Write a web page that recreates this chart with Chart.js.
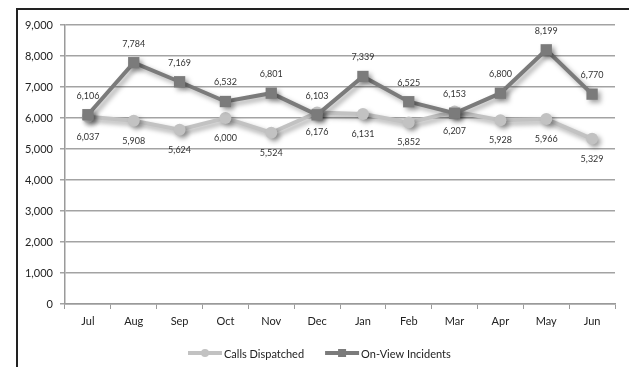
<!DOCTYPE html>
<html>
<head>
<meta charset="utf-8">
<script src="https://cdn.jsdelivr.net/npm/chart.js@4/dist/chart.umd.min.js"></script>
<style>
  html, body { margin: 0; padding: 0; background: #fff; }
  #wrap { position: relative; width: 629px; height: 367px; }
  #frame { position: absolute; left: 16px; top: 8px; right: 0; bottom: 0;
           border-left: 2px solid #222; border-top: 2px solid #222; pointer-events: none; }
  canvas { position: absolute; left: 0; top: 0; }
</style>
</head>
<body>
<div id="wrap">
  <canvas id="chart" width="629" height="367"></canvas>
  <div id="frame"></div>
</div>
<script>
// Monthly activity, July through June
const months = ['Jul', 'Aug', 'Sep', 'Oct', 'Nov', 'Dec', 'Jan', 'Feb', 'Mar', 'Apr', 'May', 'Jun'];
const callsDispatched = [6037, 5908, 5624, 6000, 5524, 6176, 6131, 5852, 6207, 5928, 5966, 5329];
const onViewIncidents = [6106, 7784, 7169, 6532, 6801, 6103, 7339, 6525, 6153, 6800, 8199, 6770];
const seriesNames = ['Calls Dispatched', 'On-View Incidents'];
const yMin = 0, yMax = 9000, yStep = 1000;

const FONT = 'Lato, "Liberation Sans", sans-serif';
const CALLS_COLOR = '#c2c2c2';
const ONVIEW_COLOR = '#7b7b7b';

// soft drop shadow under each series
const shadowPlugin = {
  id: 'seriesShadow',
  beforeDatasetDraw(chart) {
    const ctx = chart.ctx;
    ctx.save();
    ctx.shadowColor = 'rgba(0,0,0,0.35)';
    ctx.shadowBlur = 5;
    ctx.shadowOffsetX = 3;
    ctx.shadowOffsetY = 3;
  },
  afterDatasetDraw(chart) {
    chart.ctx.restore();
  }
};

// value labels: above for on-view, below for calls
const valueLabels = {
  id: 'valueLabels',
  afterDatasetsDraw(chart) {
    const ctx = chart.ctx;
    ctx.save();
    ctx.font = '9px ' + FONT;
    ctx.fillStyle = '#333';
    ctx.textAlign = 'center';
    ctx.textBaseline = 'middle';
    chart.data.datasets.forEach((ds, i) => {
      const meta = chart.getDatasetMeta(i);
      const dy = ds.labelBelow ? 20 : -19;
      meta.data.forEach((pt, j) => {
        ctx.fillText(ds.data[j].toLocaleString('en-US'), pt.x, pt.y + dy);
      });
    });
    ctx.restore();
  }
};

// legend with line + marker swatches under the plot
const lineLegend = {
  id: 'lineLegend',
  afterDraw(chart) {
    const ctx = chart.ctx;
    const y = 353;
    ctx.save();
    ctx.font = '11px ' + FONT;
    ctx.textBaseline = 'middle';
    const sw = 34, gap = 2, spacing = 21;
    let x = 188;
    chart.data.datasets.forEach(ds => {
      ctx.strokeStyle = ds.borderColor;
      ctx.lineWidth = 4;
      ctx.beginPath();
      ctx.moveTo(x, y);
      ctx.lineTo(x + sw, y);
      ctx.stroke();
      ctx.fillStyle = ds.borderColor;
      const cx = x + sw / 2;
      if (ds.pointStyle === 'rect') {
        ctx.fillRect(cx - 4, y - 4, 8, 8);
      } else {
        ctx.beginPath();
        ctx.arc(cx, y, 4, 0, Math.PI * 2);
        ctx.fill();
      }
      ctx.fillStyle = '#222';
      ctx.fillText(ds.label, x + sw + gap, y + 1);
      x += sw + gap + ctx.measureText(ds.label).width + spacing;
    });
    ctx.restore();
  }
};

new Chart(document.getElementById('chart'), {
  type: 'line',
  data: {
    labels: months,
    datasets: [
      {
        label: seriesNames[0],
        data: callsDispatched,
        borderColor: CALLS_COLOR,
        backgroundColor: CALLS_COLOR,
        borderWidth: 4,
        pointStyle: 'circle',
        pointRadius: 6,
        pointBorderWidth: 0,
        tension: 0,
        order: 2,
        labelBelow: true
      },
      {
        label: seriesNames[1],
        data: onViewIncidents,
        borderColor: ONVIEW_COLOR,
        backgroundColor: ONVIEW_COLOR,
        borderWidth: 4,
        pointStyle: 'rect',
        pointRadius: 8,
        pointBorderWidth: 0,
        tension: 0,
        order: 1,
        labelBelow: false
      }
    ]
  },
  options: {
    responsive: false,
    animation: false,
    devicePixelRatio: 1,
    layout: { padding: { left: 0, right: 14, top: 25, bottom: 33 } },
    plugins: {
      legend: { display: false },
      tooltip: { enabled: false }
    },
    scales: {
      x: {
        offset: true,
        grid: {
          offset: true,
          drawOnChartArea: false,
          drawTicks: true,
          tickLength: 5,
          color: '#9a9a9a',
          lineWidth: 1
        },
        border: { color: '#9a9a9a', width: 1.5 },
        ticks: {
          color: '#222',
          font: { family: FONT, size: 11 },
          padding: 6,
          maxRotation: 0
        },
        afterFit(scale) { scale.height = 30; }
      },
      y: {
        min: yMin,
        max: yMax,
        grid: {
          color: '#a3a3a3',
          lineWidth: 1.5,
          tickLength: 5
        },
        border: { color: '#9a9a9a', width: 1.5 },
        ticks: {
          stepSize: yStep,
          color: '#222',
          font: { family: FONT, size: 11 },
          padding: 7,
          callback: v => v.toLocaleString('en-US')
        },
        afterFit(scale) { scale.width = 65; }
      }
    }
  },
  plugins: [shadowPlugin, valueLabels, lineLegend]
});
</script>
</body>
</html>
